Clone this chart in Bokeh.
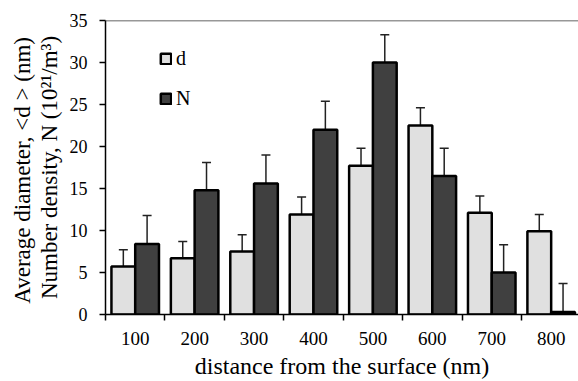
from bokeh.plotting import figure
from bokeh.models import (ColumnDataSource, Range1d, FixedTicker, Whisker, TeeHead,
                          Legend, LegendItem, Span)
from bokeh.embed import file_html
from bokeh.resources import INLINE

distances = ["100", "200", "300", "400", "500", "600", "700", "800"]
d_values = [5.7, 6.7, 7.5, 11.9, 17.7, 22.5, 12.1, 9.9]
d_errors = [2.0, 2.0, 2.0, 2.1, 2.1, 2.1, 2.0, 2.0]
n_values = [8.4, 14.8, 15.6, 22.0, 30.0, 16.5, 5.0, 0.3]
n_errors = [3.4, 3.3, 3.4, 3.4, 3.3, 3.3, 3.3, 3.4]

FONT = "Liberation Serif"
pos = list(range(1, len(distances) + 1))

src_d = ColumnDataSource(dict(
    x=[p_ - 0.2 for p_ in pos], top=d_values,
    upper=[v + e for v, e in zip(d_values, d_errors)],
    lower=[v - e for v, e in zip(d_values, d_errors)]))
src_n = ColumnDataSource(dict(
    x=[p_ + 0.2 for p_ in pos], top=n_values,
    upper=[v + e for v, e in zip(n_values, n_errors)],
    lower=[v - e for v, e in zip(n_values, n_errors)]))

p = figure(width=578, height=381, output_backend="svg", toolbar_location=None,
           x_range=Range1d(0.5, 8.46), y_range=Range1d(0, 35),
           min_border_left=105, min_border_right=0, min_border_top=20,
           min_border_bottom=67)
p.outline_line_color = None
p.grid.visible = False
p.background_fill_color = "white"
p.border_fill_color = "white"

rd = p.vbar(x="x", top="top", width=0.4, source=src_d, fill_color="#e0e0e0",
            line_color="black", line_width=2.5)
rn = p.vbar(x="x", top="top", width=0.4, source=src_n, fill_color="#404040",
            line_color="black", line_width=2.5)

for src in (src_d, src_n):
    w = Whisker(source=src, base="x", upper="upper", lower="lower",
                line_color="#222222", line_width=1.5,
                upper_head=TeeHead(size=9, line_color="#222222", line_width=1.5),
                lower_head=TeeHead(size=9, line_color="#222222", line_width=1.5))
    p.add_layout(w)

p.add_layout(Span(location=35, dimension="width", line_color="#333333", line_width=1.5))

# x axis
xa = p.xaxis[0]
xa.ticker = FixedTicker(ticks=pos, minor_ticks=[i + 0.5 for i in range(0, 9)])
xa.major_label_overrides = {i: s for i, s in zip(pos, distances)}
xa.major_tick_out = 0
xa.major_tick_in = 0
xa.minor_tick_out = 6
xa.minor_tick_in = 0
xa.minor_tick_line_color = "black"
xa.minor_tick_line_width = 1.5
xa.axis_line_color = "black"
xa.axis_line_width = 1.5
xa.major_label_text_font = FONT
xa.major_label_text_font_size = "19px"
xa.major_label_text_color = "black"
xa.major_label_standoff = 11
xa.axis_label = "distance from the surface (nm)"
xa.axis_label_text_font = FONT
xa.axis_label_text_font_size = "24px"
xa.axis_label_text_font_style = "normal"
xa.axis_label_text_color = "black"
xa.axis_label_standoff = 5

# y axis
ya = p.yaxis[0]
ya.ticker = FixedTicker(ticks=[0, 5, 10, 15, 20, 25, 30, 35], minor_ticks=[])
ya.major_tick_out = 6
ya.major_tick_in = 0
ya.major_tick_line_color = "black"
ya.major_tick_line_width = 1.5
ya.axis_line_color = "black"
ya.axis_line_width = 1.5
ya.major_label_text_font = FONT
ya.major_label_text_font_size = "18px"
ya.major_label_text_color = "black"
ya.major_label_standoff = 12
ya.axis_label = "Average  diameter, <d > (nm)\nNumber density, N (10\u00b2\u00b9/m\u00b3)"
ya.axis_label_text_font = FONT
ya.axis_label_text_font_size = "23px"
ya.axis_label_text_font_style = "normal"
ya.axis_label_text_color = "black"
ya.axis_label_text_line_height = 1.05
ya.axis_label_standoff = 5

legend = Legend(items=[LegendItem(label="d", renderers=[rd]),
                       LegendItem(label="N", renderers=[rn])],
                location=(54, 204), orientation="vertical",
                glyph_width=13, glyph_height=13, label_height=13,
                spacing=17, padding=0, margin=0, label_standoff=4,
                border_line_color=None, background_fill_alpha=0,
                label_text_font=FONT, label_text_font_size="20px",
                label_text_color="black")
p.add_layout(legend)

open("out.html", "w").write(file_html(p, INLINE))
